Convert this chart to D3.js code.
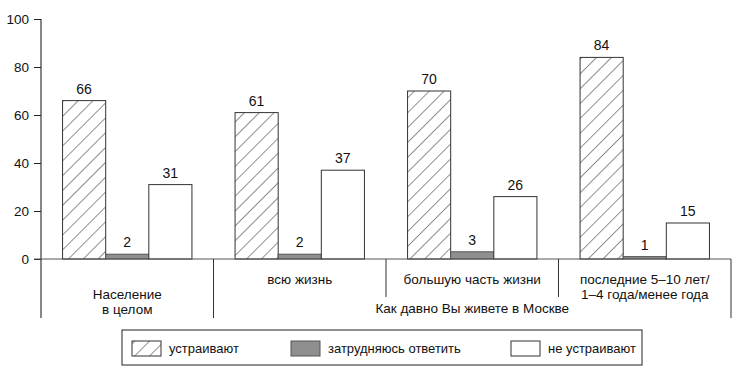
<!DOCTYPE html>
<html>
<head>
<meta charset="utf-8">
<script src="https://cdn.jsdelivr.net/npm/d3@7"></script>
<style>
  body { margin: 0; background: #fff; }
  svg { display: block; font-family: "Liberation Sans", Arial, sans-serif; }
</style>
</head>
<body>
<svg width="741" height="375"></svg>
<script>
var groups = ['Население в целом', 'всю жизнь', 'большую часть жизни', 'последние 5–10 лет/ 1–4 года/менее года'];
var groupLines = [['Население', 'в целом'], ['всю жизнь'], ['большую часть жизни'], ['последние 5–10 лет/', '1–4 года/менее года']];
var series = ['устраивают', 'затрудняюсь ответить', 'не устраивают'];
var satisfied = [66, 61, 70, 84];
var hardToSay = [2, 2, 3, 1];
var notSatisfied = [31, 37, 26, 15];
var yTicks = [0, 20, 40, 60, 80, 100];
var subTitle = 'Как давно Вы живете в Москве';

var values = [satisfied, hardToSay, notSatisfied];
var fills = ['url(#hatch)', '#8f8f8f', '#fff'];

var svg = d3.select('svg');

var defs = svg.append('defs');
var pat = defs.append('pattern')
  .attr('id', 'hatch')
  .attr('patternUnits', 'userSpaceOnUse')
  .attr('width', 10.5)
  .attr('height', 10.5)
  .attr('patternTransform', 'rotate(45)');
pat.append('rect').attr('width', 10.5).attr('height', 10.5).attr('fill', '#fff');
pat.append('line')
  .attr('x1', 0).attr('y1', 0).attr('x2', 0).attr('y2', 10.5)
  .attr('stroke', '#222').attr('stroke-width', 1);

var x0 = d3.scaleBand()
  .domain(groups)
  .range([41, 731]);

var x1 = d3.scaleBand()
  .domain(series)
  .range([0, x0.bandwidth()])
  .paddingOuter(0.5);

var y = d3.scaleLinear()
  .domain([0, 100])
  .range([259, 19]);

// y axis
var yAxis = svg.append('g')
  .attr('transform', 'translate(41,0)')
  .call(d3.axisLeft(y).tickValues(yTicks).tickSize(7).tickPadding(5));
yAxis.select('.domain').remove();
yAxis.selectAll('line').attr('stroke', '#222');
yAxis.selectAll('text').attr('font-size', 13.5).attr('fill', '#111').attr('font-family', '"Liberation Sans", Arial, sans-serif');

svg.append('line')
  .attr('x1', 41).attr('x2', 41)
  .attr('y1', y(100)).attr('y2', 318)
  .attr('stroke', '#111');

// bars
var data = [];
groups.forEach(function(g, i) {
  series.forEach(function(s, j) {
    data.push({ group: g, series: s, value: values[j][i], idx: j });
  });
});

svg.selectAll('rect.bar')
  .data(data)
  .enter()
  .append('rect')
  .attr('class', 'bar')
  .attr('x', function(d) { return x0(d.group) + x1(d.series); })
  .attr('y', function(d) { return y(d.value); })
  .attr('width', x1.bandwidth())
  .attr('height', function(d) { return y(0) - y(d.value); })
  .attr('fill', function(d) { return fills[d.idx]; })
  .attr('stroke', function(d) { return d.idx == 1 ? '#555' : '#333'; })
  .attr('stroke-width', 1);

svg.selectAll('text.val')
  .data(data)
  .enter()
  .append('text')
  .attr('class', 'val')
  .attr('x', function(d) { return x0(d.group) + x1(d.series) + x1.bandwidth() / 2; })
  .attr('y', function(d) { return y(d.value) - 7; })
  .attr('text-anchor', 'middle')
  .attr('font-size', 14)
  .attr('fill', '#111')
  .text(function(d) { return d.value; });

// baseline
svg.append('line')
  .attr('x1', 34).attr('x2', 731)
  .attr('y1', y(0)).attr('y2', y(0))
  .attr('stroke', '#555');

// group separators
var sepBottom = [318, 318, 297, 297, 318];
groups.concat(['end']).forEach(function(g, i) {
  if (i == 0) return;
  var xx = i < groups.length ? x0(g) : x0.range()[1];
  svg.append('line')
    .attr('x1', xx).attr('x2', xx)
    .attr('y1', y(0)).attr('y2', sepBottom[i])
    .attr('stroke', '#333');
});

// group labels
var firstLineY = [299, 284, 284, 284];
groupLines.forEach(function(lines, i) {
  var t = svg.append('text')
    .attr('x', x0(groups[i]) + x0.bandwidth() / 2)
    .attr('y', firstLineY[i])
    .attr('text-anchor', 'middle')
    .attr('font-size', 13.5)
    .attr('fill', '#111');
  lines.forEach(function(l, k) {
    t.append('tspan')
      .attr('x', x0(groups[i]) + x0.bandwidth() / 2)
      .attr('dy', k == 0 ? 0 : 14.5)
      .text(l);
  });
});

svg.append('text')
  .attr('x', (x0(groups[1]) + x0.range()[1]) / 2)
  .attr('y', 313)
  .attr('text-anchor', 'middle')
  .attr('font-size', 13.5)
  .attr('fill', '#111')
  .text(subTitle);

// legend
var legend = svg.append('g');
legend.append('rect')
  .attr('x', 122).attr('y', 330)
  .attr('width', 520).attr('height', 35)
  .attr('fill', '#fff')
  .attr('stroke', '#222');

var legendX = [132, 291, 511];
series.forEach(function(s, j) {
  legend.append('rect')
    .attr('x', legendX[j]).attr('y', 341)
    .attr('width', 29).attr('height', 15)
    .attr('fill', fills[j])
    .attr('stroke', j == 1 ? '#555' : '#333');
  legend.append('text')
    .attr('x', legendX[j] + 37)
    .attr('y', 353)
    .attr('font-size', 13)
    .attr('fill', '#111')
    .text(s);
});
</script>
</body>
</html>
